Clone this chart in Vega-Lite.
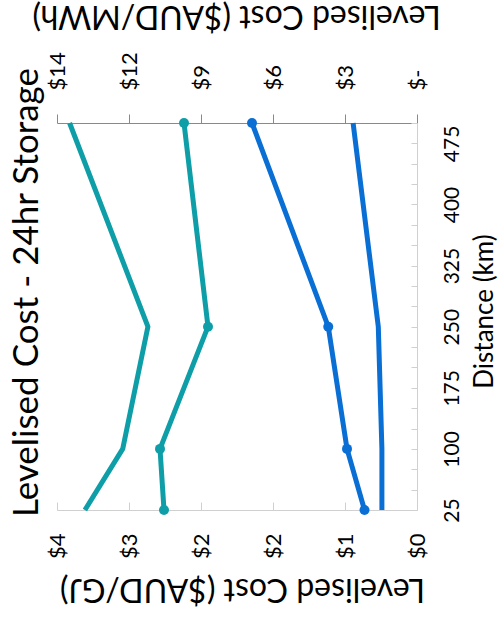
{
  "$schema": "https://vega.github.io/schema/vega-lite/v6.json",
  "width": 360,
  "height": 387,
  "autosize": "none",
  "padding": {"left": 57, "top": 123, "right": 87, "bottom": 117},
  "background": "white",
  "config": {
    "view": {"stroke": null},
    "font": "Lato",
    "axis": {"labelFont": "Lato", "titleFont": "Lato", "labelColor": "#000000", "titleColor": "#000000", "grid": false, "titleFontWeight": "normal"}
  },
  "title": {
    "text": "Levelised Cost - 24hr Storage",
    "orient": "left",
    "anchor": "middle",
    "frame": "group",
    "font": "Lato",
    "fontSize": 35,
    "fontWeight": "normal",
    "color": "#000000",
    "offset": -13,
    "dx": 24
  },
  "datasets": {
    "gj": [
      {"distance": 25, "series": "A", "cost": 3.69},
      {"distance": 100, "series": "A", "cost": 3.27},
      {"distance": 250, "series": "A", "cost": 2.99},
      {"distance": 500, "series": "A", "cost": 3.86},
      {"distance": 25, "series": "D", "cost": 0.39},
      {"distance": 100, "series": "D", "cost": 0.39},
      {"distance": 250, "series": "D", "cost": 0.43},
      {"distance": 500, "series": "D", "cost": 0.71}
    ],
    "mwh": [
      {"distance": 25, "series": "B", "cost": 10.12},
      {"distance": 100, "series": "B", "cost": 10.28},
      {"distance": 250, "series": "B", "cost": 8.36},
      {"distance": 500, "series": "B", "cost": 9.32},
      {"distance": 25, "series": "C", "cost": 2.1},
      {"distance": 100, "series": "C", "cost": 2.8},
      {"distance": 250, "series": "C", "cost": 3.55},
      {"distance": 500, "series": "C", "cost": 6.6}
    ]
  },
  "encoding": {
    "y": {
      "field": "distance", "type": "quantitative",
      "scale": {"domain": [25, 500], "nice": false, "zero": false},
      "axis": {
        "orient": "right",
        "title": "Distance (km)",
        "values": [25, 50, 75, 100, 125, 150, 175, 200, 225, 250, 275, 300, 325, 350, 375, 400, 425, 450, 475, 500],
        "labelExpr": "datum.value % 75 == 25 && datum.value < 500 ? datum.label : ''",
        "labelAngle": -90, "labelAlign": "center", "labelBaseline": "top",
        "labelFontSize": 21, "labelPadding": 30,
        "tickSize": -6, "tickColor": "#d0d0d0", "domainColor": "#d0d0d0",
        "titleFontSize": 26, "titleAngle": -90, "titleAlign": "center", "titleBaseline": "middle",
        "titleX": 67, "titleY": 188
      }
    },
    "order": {"field": "distance", "type": "quantitative"},
    "color": {
      "field": "series", "type": "nominal",
      "scale": {"domain": ["A", "B", "C", "D"], "range": ["#0E9EA8", "#0E9EA8", "#0A6FD4", "#0A6FD4"]},
      "legend": null
    }
  },
  "layer": [
    {
      "data": {"name": "gj"},
      "mark": {"type": "line", "strokeWidth": 5, "strokeJoin": "round"},
      "encoding": {
        "x": {
          "field": "cost", "type": "quantitative",
          "scale": {"domain": [0, 4], "reverse": true, "nice": false},
          "axis": {
            "orient": "bottom",
            "title": "Levelised Cost ($AUD/GJ)",
            "values": [0, 0.8, 1.6, 2.4, 3.2, 4],
            "labelExpr": "'$' + format(datum.value, '.0f')",
            "labelAngle": -90, "labelAlign": "right", "labelBaseline": "middle",
            "labelFontSize": 22, "labelPadding": 31,
            "tickSize": -8, "tickColor": "#d0d0d0", "domainColor": "#d0d0d0",
            "titleFontSize": 32, "titleAngle": 180, "titleAlign": "center", "titleBaseline": "middle",
            "titleX": 185, "titleY": 78
          }
        }
      }
    },
    {
      "data": {"name": "mwh"},
      "mark": {"type": "line", "strokeWidth": 5, "strokeJoin": "round", "point": {"filled": true, "size": 100}},
      "encoding": {
        "x": {
          "field": "cost", "type": "quantitative",
          "scale": {"domain": [0, 14.4], "reverse": true, "nice": false},
          "axis": {
            "orient": "top",
            "title": "Levelised Cost ($AUD/MWh)",
            "values": [0, 2.88, 5.76, 8.64, 11.52, 14.4],
            "labelExpr": "datum.value == 0 ? '$-' : '$' + format(datum.value, '.0f')",
            "labelAngle": -90, "labelAlign": "left", "labelBaseline": "middle",
            "labelFontSize": 22, "labelPadding": 24,
            "tickSize": 9, "tickColor": "#898989", "domainColor": "#898989",
            "titleFontSize": 32, "titleAngle": 180, "titleAlign": "center", "titleBaseline": "middle",
            "titleX": 179, "titleY": -108
          }
        }
      }
    }
  ],
  "resolve": {"scale": {"x": "independent"}}
}
